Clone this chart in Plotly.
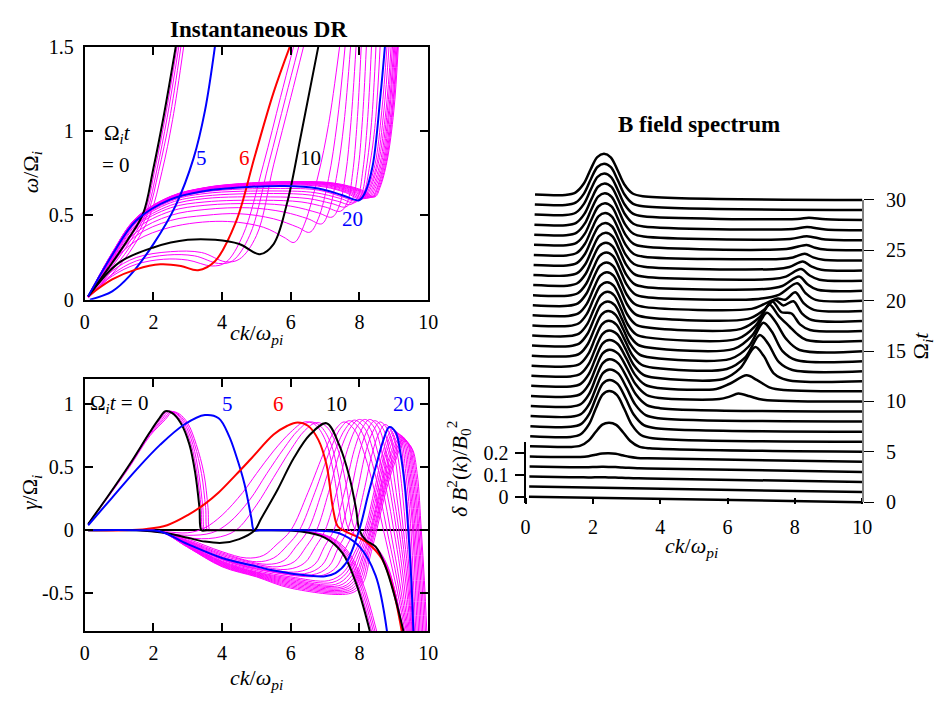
import plotly.graph_objects as go

# ====================== DATA ======================
# ---- Instantaneous DR: real frequency omega/Omega_i vs ck/omega_pi, one curve per Omega_i t
OMEGA_00 = [(0.1,0.02),(0.7,0.19),(1.3,0.37),(1.7,0.51),(2.0,0.78),(2.3,1.09),(2.65,1.5)]
OMEGA_01 = [(0.1,0.02),(0.7,0.18),(1.3,0.36),(1.75,0.52),(2.05,0.78),(2.35,1.09),(2.69,1.5)]
OMEGA_02 = [(0.1,0.02),(0.7,0.17),(1.3,0.34),(1.8,0.52),(2.1,0.77),(2.4,1.08),(2.74,1.5)]
OMEGA_03 = [(0.1,0.01),(0.7,0.15),(1.3,0.31),(1.85,0.52),(2.15,0.76),(2.47,1.07),(2.8,1.5)]
OMEGA_04 = [(0.1,0.01),(0.7,0.13),(1.3,0.28),(1.9,0.5),(2.25,0.76),(2.56,1.07),(2.88,1.5)]
OMEGA_05 = [(0.15,0.0),(0.8,0.05),(1.3,0.14),(2.0,0.33),(2.65,0.56),(3.17,0.84),(3.5,1.12),(3.79,1.5)]
OMEGA_06 = [(0.1,0.02),(0.8,0.12),(1.5,0.18),(2.2,0.21),(2.8,0.2),(3.3,0.175),(3.8,0.23),(4.4,0.46),(4.95,0.85),(5.5,1.23),(5.97,1.5)]
OMEGA_07 = [(0.1,0.02),(0.8,0.14),(1.5,0.21),(2.3,0.24),(3.0,0.235),(3.7,0.2),(4.1,0.22),(4.6,0.38),(5.2,0.8),(5.7,1.2),(6.08,1.5)]
OMEGA_08 = [(0.1,0.02),(0.8,0.15),(1.5,0.23),(2.4,0.265),(3.2,0.26),(3.9,0.215),(4.3,0.23),(4.8,0.38),(5.35,0.8),(5.85,1.2),(6.23,1.5)]
OMEGA_09 = [(0.1,0.02),(0.8,0.17),(1.5,0.25),(2.5,0.285),(3.4,0.28),(4.1,0.225),(4.5,0.24),(5.0,0.38),(5.5,0.8),(6.0,1.2),(6.37,1.5)]
OMEGA_10 = [(0.1,0.02),(1.0,0.22),(2.0,0.31),(3.0,0.355),(3.8,0.355),(4.5,0.33),(5.1,0.27),(5.5,0.33),(5.9,0.58),(6.3,0.98),(6.8,1.5)]
OMEGA_11 = [(0.1,0.02),(0.8,0.22),(1.5,0.35),(2.5,0.43),(4.0,0.465),(5.2,0.43),(5.8,0.37),(6.1,0.34),(6.4,0.45),(6.8,0.74),(7.1,1.04),(7.42,1.5)]
OMEGA_12 = [(0.1,0.02),(0.8,0.23),(1.5,0.38),(2.5,0.47),(3.5,0.5),(4.5,0.51),(5.5,0.48),(6.2,0.43),(6.55,0.4),(6.8,0.48),(7.1,0.72),(7.35,1.05),(7.58,1.5)]
OMEGA_13 = [(0.1,0.02),(0.8,0.235),(1.5,0.4),(2.5,0.5),(3.5,0.535),(4.8,0.545),(5.8,0.52),(6.5,0.48),(6.9,0.45),(7.1,0.52),(7.35,0.75),(7.55,1.05),(7.74,1.5)]
OMEGA_14 = [(0.1,0.02),(0.8,0.24),(1.5,0.42),(2.5,0.525),(3.5,0.56),(5.0,0.57),(6.0,0.555),(6.8,0.515),(7.2,0.49),(7.4,0.55),(7.6,0.75),(7.75,1.05),(7.9,1.5)]
OMEGA_15 = [(0.1,0.02),(0.8,0.245),(1.5,0.435),(2.5,0.545),(3.5,0.58),(5.2,0.59),(6.3,0.58),(7.0,0.55),(7.45,0.525),(7.65,0.58),(7.8,0.75),(7.93,1.05),(8.05,1.5)]
OMEGA_16 = [(0.1,0.02),(0.8,0.25),(1.5,0.445),(2.5,0.56),(3.5,0.6),(5.4,0.61),(6.5,0.6),(7.2,0.57),(7.6,0.55),(7.8,0.6),(7.95,0.76),(8.08,1.05),(8.2,1.5)]
OMEGA_17 = [(0.1,0.02),(0.8,0.255),(1.5,0.455),(2.5,0.575),(3.5,0.615),(5.5,0.63),(6.6,0.62),(7.35,0.585),(7.75,0.565),(7.95,0.61),(8.1,0.77),(8.23,1.05),(8.35,1.5)]
OMEGA_18 = [(0.1,0.02),(0.8,0.26),(1.5,0.46),(2.5,0.585),(3.5,0.63),(5.6,0.645),(6.7,0.635),(7.45,0.6),(7.85,0.575),(8.05,0.62),(8.2,0.78),(8.35,1.05),(8.48,1.5)]
OMEGA_19 = [(0.1,0.02),(0.8,0.262),(1.5,0.465),(2.5,0.59),(3.5,0.64),(5.7,0.66),(6.8,0.65),(7.5,0.61),(7.92,0.585),(8.12,0.63),(8.3,0.8),(8.46,1.05),(8.6,1.5)]
OMEGA_20 = [(0.1,0.02),(0.8,0.265),(1.5,0.47),(2.5,0.595),(3.5,0.645),(4.5,0.665),(5.8,0.675),(6.8,0.66),(7.5,0.62),(7.99,0.59),(8.15,0.63),(8.38,0.79),(8.61,1.21),(8.74,1.5)]
OMEGA_21 = [(0.1,0.02),(0.8,0.268),(1.5,0.472),(2.5,0.597),(3.5,0.648),(4.5,0.668),(6.0,0.682),(7.0,0.668),(7.6,0.635),(8.05,0.595),(8.2,0.64),(8.45,0.8),(8.65,1.12),(8.8,1.5)]
OMEGA_22 = [(0.1,0.02),(0.8,0.27),(1.5,0.475),(2.5,0.6),(3.5,0.651),(4.5,0.672),(6.0,0.686),(7.0,0.673),(7.65,0.637),(8.1,0.598),(8.25,0.645),(8.5,0.8),(8.71,1.12),(8.86,1.5)]
OMEGA_23 = [(0.1,0.02),(0.8,0.272),(1.5,0.477),(2.5,0.603),(3.5,0.654),(4.5,0.675),(6.0,0.689),(7.05,0.677),(7.7,0.64),(8.15,0.6),(8.3,0.65),(8.55,0.81),(8.77,1.12),(8.92,1.5)]
OMEGA_24 = [(0.1,0.02),(0.8,0.273),(1.5,0.479),(2.5,0.605),(3.5,0.656),(4.5,0.678),(6.0,0.691),(7.1,0.68),(7.75,0.642),(8.2,0.601),(8.35,0.652),(8.6,0.81),(8.81,1.12),(8.96,1.5)]
OMEGA_25 = [(0.1,0.02),(0.8,0.274),(1.5,0.48),(2.5,0.607),(3.5,0.658),(4.5,0.68),(6.0,0.693),(7.1,0.683),(7.8,0.645),(8.25,0.603),(8.4,0.655),(8.64,0.81),(8.85,1.12),(9.0,1.5)]
OMEGA_26 = [(0.1,0.02),(0.8,0.275),(1.5,0.482),(2.5,0.608),(3.5,0.66),(4.5,0.682),(6.0,0.695),(7.15,0.685),(7.85,0.647),(8.3,0.605),(8.45,0.658),(8.68,0.81),(8.88,1.12),(9.03,1.5)]
OMEGA_27 = [(0.1,0.02),(0.8,0.276),(1.5,0.483),(2.5,0.61),(3.5,0.662),(4.5,0.684),(6.0,0.697),(7.2,0.687),(7.9,0.649),(8.35,0.607),(8.5,0.66),(8.72,0.82),(8.92,1.12),(9.06,1.5)]
OMEGA_28 = [(0.1,0.02),(0.8,0.277),(1.5,0.484),(2.5,0.611),(3.5,0.663),(4.5,0.686),(6.0,0.699),(7.2,0.689),(7.95,0.65),(8.38,0.608),(8.53,0.662),(8.75,0.82),(8.95,1.12),(9.09,1.5)]
OMEGA_29 = [(0.1,0.02),(0.8,0.278),(1.5,0.485),(2.5,0.612),(3.5,0.664),(4.5,0.687),(6.0,0.7),(7.25,0.69),(8.0,0.651),(8.42,0.61),(8.57,0.665),(8.78,0.82),(8.97,1.12),(9.11,1.5)]
OMEGA_30 = [(0.1,0.02),(0.8,0.279),(1.5,0.486),(2.5,0.613),(3.5,0.665),(4.5,0.688),(6.0,0.701),(7.25,0.692),(8.05,0.652),(8.45,0.61),(8.6,0.667),(8.8,0.82),(9.0,1.12),(9.13,1.5)]

# ---- growth rate gamma/Omega_i vs ck/omega_pi, one curve per Omega_i t
GAMMA_00 = [(0.1,0.05),(0.7,0.28),(1.3,0.52),(1.9,0.78),(2.15,0.88),(2.35,0.945),(2.55,0.93),(2.8,0.85),(3.05,0.68),(3.22,0.45),(3.34,0.18),(3.4,0.0),(3.55,0.0),(5.0,0.0),(6.3,-0.01),(7.0,-0.06),(7.5,-0.18),(7.9,-0.42),(8.3,-0.8)]
GAMMA_01 = [(0.1,0.05),(0.7,0.28),(1.3,0.52),(1.9,0.78),(2.2,0.88),(2.4,0.945),(2.6,0.93),(2.85,0.85),(3.1,0.68),(3.27,0.45),(3.39,0.18),(3.45,0.0),(3.6,0.0),(5.0,0.0),(6.35,-0.01),(7.05,-0.06),(7.55,-0.18),(7.95,-0.42),(8.35,-0.8)]
GAMMA_02 = [(0.1,0.05),(0.7,0.28),(1.3,0.52),(1.9,0.77),(2.25,0.88),(2.45,0.945),(2.65,0.93),(2.9,0.85),(3.15,0.68),(3.32,0.45),(3.44,0.18),(3.5,0.0),(3.65,0.0),(5.0,0.0),(6.4,-0.01),(7.1,-0.06),(7.6,-0.18),(8.0,-0.42),(8.4,-0.8)]
GAMMA_03 = [(0.1,0.05),(0.7,0.28),(1.3,0.51),(1.9,0.76),(2.3,0.88),(2.5,0.94),(2.7,0.925),(2.95,0.85),(3.2,0.68),(3.4,0.45),(3.52,0.18),(3.58,0.0),(3.72,0.0),(5.0,0.0),(6.45,-0.01),(7.15,-0.06),(7.65,-0.18),(8.05,-0.42),(8.45,-0.8)]
GAMMA_04 = [(0.1,0.05),(0.7,0.27),(1.3,0.5),(1.9,0.75),(2.35,0.88),(2.55,0.94),(2.75,0.925),(3.0,0.85),(3.25,0.68),(3.47,0.45),(3.59,0.18),(3.65,0.0),(3.8,0.0),(5.0,0.0),(6.5,-0.01),(7.2,-0.06),(7.7,-0.18),(8.1,-0.42),(8.5,-0.8)]
GAMMA_05 = [(0.1,0.04),(0.8,0.26),(1.5,0.48),(2.2,0.68),(2.9,0.84),(3.5,0.915),(3.9,0.89),(4.2,0.75),(4.4,0.6),(4.65,0.37),(4.85,0.1),(4.93,0.0),(5.1,0.0),(6.5,0.0),(7.2,-0.01),(7.55,-0.04),(8.0,-0.13),(8.47,-0.36),(8.8,-0.8)]
GAMMA_06 = [(0.1,0.0),(1.2,0.0),(1.8,0.01),(2.4,0.04),(3.0,0.12),(3.5,0.21),(3.9,0.3),(4.4,0.44),(4.85,0.57),(5.5,0.76),(5.9,0.83),(6.2,0.856),(6.5,0.83),(6.8,0.72),(7.04,0.52),(7.23,0.17),(7.37,0.03),(7.6,-0.01),(8.0,-0.06),(8.28,-0.11),(8.66,-0.23),(8.95,-0.44),(9.23,-0.8)]
GAMMA_07 = [(0.1,0.0),(1.5,0.0),(2.3,-0.01),(3.0,-0.02),(3.5,0.02),(4.0,0.12),(4.6,0.3),(5.0,0.45),(5.5,0.63),(6.0,0.78),(6.4,0.86),(6.7,0.84),(7.0,0.72),(7.25,0.45),(7.42,0.15),(7.52,0.02),(7.7,-0.02),(8.05,-0.07),(8.35,-0.12),(8.72,-0.24),(9.0,-0.45),(9.25,-0.8)]
GAMMA_08 = [(0.1,0.0),(1.5,0.0),(2.3,-0.02),(3.0,-0.04),(3.7,-0.02),(4.2,0.06),(4.8,0.24),(5.3,0.45),(5.8,0.65),(6.2,0.79),(6.55,0.86),(6.85,0.83),(7.15,0.7),(7.4,0.42),(7.57,0.13),(7.67,0.02),(7.85,-0.03),(8.1,-0.08),(8.4,-0.12),(8.75,-0.25),(9.02,-0.47),(9.26,-0.8)]
GAMMA_09 = [(0.1,0.0),(1.5,0.0),(2.3,-0.02),(3.0,-0.06),(3.8,-0.06),(4.4,0.0),(5.0,0.2),(5.5,0.42),(6.0,0.64),(6.4,0.79),(6.75,0.855),(7.05,0.82),(7.35,0.66),(7.6,0.38),(7.75,0.12),(7.85,0.02),(8.0,-0.03),(8.2,-0.09),(8.5,-0.14),(8.8,-0.27),(9.05,-0.5),(9.27,-0.8)]
GAMMA_10 = [(0.1,0.0),(1.5,0.0),(2.3,-0.02),(3.0,-0.06),(3.5,-0.09),(4.0,-0.1),(4.5,-0.07),(4.95,0.0),(5.13,0.09),(5.61,0.32),(6.08,0.57),(6.56,0.76),(7.04,0.85),(7.42,0.67),(7.71,0.42),(7.9,0.17),(8.0,0.0),(8.19,-0.08),(8.47,-0.13),(8.76,-0.29),(9.04,-0.54),(9.28,-0.8)]
GAMMA_11 = [(0.1,0.0),(1.5,0.0),(2.2,-0.01),(3.0,-0.07),(4.0,-0.17),(4.7,-0.22),(5.2,-0.2),(5.6,-0.11),(6.0,0.0),(6.5,0.3),(7.0,0.64),(7.3,0.8),(7.55,0.86),(7.85,0.8),(8.15,0.6),(8.45,0.3),(8.7,0.0),(8.95,-0.3),(9.15,-0.55),(9.32,-0.8)]
GAMMA_12 = [(0.1,0.0),(1.5,0.0),(2.2,-0.01),(3.0,-0.08),(4.0,-0.18),(5.0,-0.25),(5.5,-0.22),(5.9,-0.12),(6.25,0.0),(6.7,0.3),(7.15,0.64),(7.45,0.81),(7.7,0.87),(8.0,0.81),(8.3,0.6),(8.58,0.3),(8.8,0.0),(9.03,-0.3),(9.2,-0.55),(9.36,-0.8)]
GAMMA_13 = [(0.1,0.0),(1.5,0.0),(2.2,-0.01),(3.0,-0.085),(4.0,-0.19),(5.3,-0.27),(5.8,-0.24),(6.15,-0.13),(6.5,0.0),(6.9,0.3),(7.3,0.64),(7.6,0.81),(7.85,0.875),(8.15,0.81),(8.43,0.6),(8.7,0.3),(8.9,0.0),(9.1,-0.3),(9.25,-0.55),(9.39,-0.8)]
GAMMA_14 = [(0.1,0.0),(1.5,0.0),(2.2,-0.01),(3.0,-0.09),(4.0,-0.2),(5.0,-0.27),(5.6,-0.29),(6.1,-0.25),(6.45,-0.13),(6.75,0.0),(7.1,0.3),(7.45,0.64),(7.75,0.82),(8.0,0.88),(8.28,0.82),(8.55,0.6),(8.8,0.3),(9.0,0.0),(9.18,-0.3),(9.3,-0.55),(9.42,-0.8)]
GAMMA_15 = [(0.1,0.0),(1.5,0.0),(2.2,-0.01),(3.0,-0.095),(4.0,-0.21),(5.0,-0.28),(5.9,-0.31),(6.4,-0.26),(6.72,-0.13),(7.0,0.0),(7.33,0.3),(7.65,0.64),(7.92,0.82),(8.15,0.88),(8.42,0.82),(8.67,0.6),(8.9,0.3),(9.08,0.0),(9.24,-0.3),(9.35,-0.55),(9.45,-0.8)]
GAMMA_16 = [(0.1,0.0),(1.5,0.0),(2.2,-0.01),(3.0,-0.1),(4.0,-0.22),(5.0,-0.29),(6.2,-0.33),(6.7,-0.27),(6.98,-0.13),(7.25,0.0),(7.56,0.3),(7.85,0.64),(8.1,0.82),(8.3,0.88),(8.55,0.82),(8.78,0.6),(8.98,0.3),(9.15,0.0),(9.3,-0.3),(9.4,-0.55),(9.48,-0.8)]
GAMMA_17 = [(0.1,0.0),(1.5,0.0),(2.2,-0.01),(3.0,-0.1),(4.0,-0.225),(5.0,-0.3),(6.4,-0.345),(6.9,-0.28),(7.18,-0.14),(7.45,0.0),(7.74,0.3),(8.02,0.64),(8.26,0.81),(8.45,0.87),(8.68,0.81),(8.9,0.6),(9.07,0.3),(9.22,0.0),(9.35,-0.3),(9.44,-0.55),(9.51,-0.8)]
GAMMA_18 = [(0.1,0.0),(1.5,0.0),(2.2,-0.01),(3.0,-0.105),(4.0,-0.23),(5.0,-0.305),(6.6,-0.355),(7.1,-0.29),(7.38,-0.14),(7.65,0.0),(7.93,0.3),(8.2,0.64),(8.42,0.8),(8.6,0.86),(8.82,0.8),(9.02,0.6),(9.16,0.3),(9.28,0.0),(9.4,-0.3),(9.47,-0.55),(9.53,-0.8)]
GAMMA_19 = [(0.1,0.0),(1.5,0.0),(2.2,-0.01),(3.0,-0.105),(4.0,-0.235),(5.0,-0.31),(6.8,-0.365),(7.3,-0.3),(7.58,-0.15),(7.85,0.0),(8.12,0.3),(8.38,0.62),(8.58,0.78),(8.75,0.84),(8.95,0.78),(9.12,0.58),(9.25,0.3),(9.35,0.0),(9.44,-0.3),(9.5,-0.55),(9.55,-0.8)]
GAMMA_20 = [(0.1,0.0),(1.5,0.0),(2.2,-0.01),(3.0,-0.11),(4.0,-0.22),(4.9,-0.28),(5.5,-0.32),(6.5,-0.36),(7.0,-0.365),(7.3,-0.34),(7.61,-0.26),(7.99,0.0),(8.25,0.28),(8.47,0.5),(8.7,0.72),(8.87,0.82),(9.05,0.78),(9.2,0.6),(9.32,0.35),(9.42,0.0),(9.5,-0.35),(9.57,-0.8)]
GAMMA_21 = [(0.1,0.0),(1.5,0.0),(2.2,-0.01),(3.0,-0.11),(4.0,-0.245),(5.0,-0.32),(6.0,-0.37),(7.1,-0.4),(7.55,-0.33),(7.85,-0.18),(8.15,0.0),(8.45,0.34),(8.7,0.64),(8.95,0.8),(9.15,0.74),(9.3,0.45),(9.45,0.0),(9.53,-0.4),(9.6,-0.8)]
GAMMA_22 = [(0.1,0.0),(1.5,0.0),(2.2,-0.01),(3.0,-0.115),(4.0,-0.25),(5.0,-0.33),(6.0,-0.38),(7.2,-0.415),(7.62,-0.34),(7.92,-0.18),(8.2,0.0),(8.5,0.34),(8.75,0.63),(9.0,0.79),(9.2,0.73),(9.35,0.45),(9.5,0.0),(9.57,-0.4),(9.64,-0.8)]
GAMMA_23 = [(0.1,0.0),(1.5,0.0),(2.2,-0.01),(3.0,-0.12),(4.0,-0.255),(5.0,-0.335),(6.0,-0.39),(7.3,-0.43),(7.7,-0.35),(7.98,-0.19),(8.25,0.0),(8.55,0.34),(8.8,0.63),(9.05,0.78),(9.25,0.72),(9.4,0.45),(9.55,0.0),(9.62,-0.4),(9.68,-0.8)]
GAMMA_24 = [(0.1,0.0),(1.5,0.0),(2.2,-0.01),(3.0,-0.12),(4.0,-0.26),(5.0,-0.34),(6.0,-0.4),(7.4,-0.44),(7.78,-0.36),(8.04,-0.19),(8.3,0.0),(8.6,0.34),(8.85,0.62),(9.1,0.77),(9.3,0.71),(9.44,0.45),(9.58,0.0),(9.66,-0.4),(9.72,-0.8)]
GAMMA_25 = [(0.1,0.0),(1.5,0.0),(2.2,-0.01),(3.0,-0.125),(4.0,-0.265),(5.0,-0.345),(6.0,-0.41),(7.5,-0.45),(7.85,-0.37),(8.09,-0.2),(8.33,0.0),(8.63,0.34),(8.9,0.61),(9.15,0.76),(9.35,0.7),(9.48,0.45),(9.62,0.0),(9.7,-0.4),(9.76,-0.8)]
GAMMA_26 = [(0.1,0.0),(1.5,0.0),(2.2,-0.01),(3.0,-0.125),(4.0,-0.27),(5.0,-0.35),(6.0,-0.42),(7.55,-0.46),(7.9,-0.38),(8.13,-0.2),(8.36,0.0),(8.66,0.34),(8.93,0.6),(9.2,0.75),(9.4,0.69),(9.52,0.45),(9.66,0.0),(9.74,-0.4),(9.8,-0.8)]
GAMMA_27 = [(0.1,0.0),(1.5,0.0),(2.2,-0.01),(3.0,-0.13),(4.0,-0.275),(5.0,-0.355),(6.0,-0.43),(7.6,-0.47),(7.95,-0.39),(8.17,-0.21),(8.4,0.0),(8.7,0.34),(8.97,0.59),(9.22,0.74),(9.43,0.68),(9.56,0.45),(9.7,0.0),(9.78,-0.4),(9.84,-0.8)]
GAMMA_28 = [(0.1,0.0),(1.5,0.0),(2.2,-0.01),(3.0,-0.13),(4.0,-0.28),(5.0,-0.36),(6.0,-0.44),(7.65,-0.48),(8.0,-0.4),(8.21,-0.21),(8.43,0.0),(8.73,0.34),(9.0,0.58),(9.25,0.73),(9.46,0.67),(9.6,0.45),(9.73,0.0),(9.82,-0.4),(9.88,-0.8)]
GAMMA_29 = [(0.1,0.0),(1.5,0.0),(2.2,-0.01),(3.0,-0.135),(4.0,-0.285),(5.0,-0.365),(6.0,-0.45),(7.7,-0.49),(8.05,-0.41),(8.25,-0.22),(8.46,0.0),(8.76,0.34),(9.03,0.57),(9.28,0.72),(9.5,0.66),(9.64,0.45),(9.77,0.0),(9.86,-0.4),(9.92,-0.8)]
GAMMA_30 = [(0.1,0.0),(1.5,0.0),(2.2,-0.01),(3.0,-0.135),(4.0,-0.29),(5.0,-0.37),(6.0,-0.46),(7.75,-0.5),(8.1,-0.42),(8.3,-0.22),(8.5,0.0),(8.8,0.34),(9.06,0.56),(9.3,0.71),(9.53,0.65),(9.68,0.45),(9.8,0.0),(9.89,-0.4),(9.96,-0.8)]

HIGHLIGHT_TIMES = [0, 5, 6, 10, 20]
HIGHLIGHT_COLORS = ["#000000", "#0000ff", "#ff0000", "#000000", "#0000ff"]

# ---- B field spectrum dB^2(k)/B0^2, one trace per Omega_i t = 0..30
SPEC_TIMES = list(range(31))
MAIN_AMP = [0.0, 0.0, 0.002, 0.004, 0.02, 0.115, 0.215, 0.22, 0.222, 0.222, 0.22, 0.218,
            0.216, 0.214, 0.212, 0.21, 0.208, 0.206, 0.205, 0.204, 0.203, 0.202, 0.201,
            0.2, 0.199, 0.198, 0.197, 0.196, 0.195, 0.194, 0.193]
MAIN_K = [2.45, 2.45, 2.45, 2.45, 2.45, 2.45, 2.45, 2.45, 2.45, 2.44, 2.43, 2.42, 2.41,
          2.39, 2.37, 2.35, 2.34, 2.32, 2.31, 2.29, 2.28, 2.26, 2.25, 2.23, 2.22, 2.21,
          2.2, 2.19, 2.17, 2.16, 2.15]
MAIN_RIGHT_WIDTH = [1.0, 1.0, 1.0, 1.0, 1.0, 1.05, 1.12, 1.2, 1.26, 1.3, 1.3, 1.26, 1.2,
                    1.15, 1.1, 1.05, 1.0, 1.0, 1.0, 1.0, 1.0, 1.0, 1.0, 1.0, 1.0, 1.0,
                    1.0, 1.0, 1.0, 1.0, 1.0]
PEAK_OFFSETS = [-1.15, -0.85, -0.6, -0.4, -0.2, 0.0, 0.2, 0.4, 0.6, 0.85, 1.15]
PEAK_SHAPE = [0.0, 0.06, 0.28, 0.62, 0.92, 1.0, 0.92, 0.62, 0.28, 0.06, 0.0]
SECOND_10 = [(5.7,0.0),(6.0,0.012),(6.26,0.027),(6.6,0.015),(7.0,0.0)]
SECOND_11 = [(5.6,0.0),(6.0,0.025),(6.5,0.065),(6.8,0.045),(7.2,0.01),(7.6,0.0)]
SECOND_12 = [(5.8,0.0),(6.3,0.05),(6.75,0.15),(7.0,0.11),(7.3,0.03),(7.7,0.0)]
SECOND_13 = [(5.9,0.0),(6.45,0.055),(6.88,0.16),(7.13,0.12),(7.45,0.035),(7.85,0.0)]
SECOND_14 = [(6.0,0.0),(6.55,0.06),(6.98,0.17),(7.23,0.13),(7.55,0.04),(7.95,0.0)]
SECOND_15 = [(6.1,0.0),(6.65,0.065),(7.08,0.17),(7.33,0.13),(7.65,0.05),(8.05,0.0)]
SECOND_16 = [(6.2,0.0),(6.75,0.065),(7.15,0.16),(7.42,0.11),(7.75,0.06),(7.95,0.03),(8.25,0.0)]
SECOND_17 = [(6.3,0.0),(6.85,0.055),(7.22,0.13),(7.5,0.08),(7.8,0.075),(8.05,0.025),(8.35,0.0)]
SECOND_18 = [(6.5,0.0),(6.95,0.04),(7.3,0.09),(7.55,0.065),(7.85,0.085),(8.1,0.03),(8.4,0.0)]
SECOND_19 = [(6.6,0.0),(7.0,0.025),(7.38,0.05),(7.6,0.045),(7.9,0.08),(8.15,0.03),(8.45,0.0)]
SECOND_20 = [(6.8,0.0),(7.4,0.02),(7.95,0.075),(8.2,0.03),(8.5,0.0)]
SECOND_21 = [(7.0,0.0),(7.5,0.015),(8.0,0.06),(8.25,0.025),(8.55,0.0)]
SECOND_22 = [(7.2,0.0),(7.6,0.012),(8.05,0.048),(8.3,0.02),(8.6,0.0)]
SECOND_23 = [(7.3,0.0),(7.7,0.01),(8.1,0.036),(8.35,0.015),(8.65,0.0)]
SECOND_24 = [(7.4,0.0),(7.8,0.008),(8.15,0.026),(8.4,0.01),(8.7,0.0)]
SECOND_25 = [(7.6,0.0),(8.2,0.02),(8.45,0.008),(8.75,0.0)]
SECOND_26 = [(7.7,0.0),(8.2,0.014),(8.75,0.0)]
SECOND_27 = [(7.8,0.0),(8.2,0.01),(8.75,0.0)]
SECOND_28 = [(7.9,0.0),(8.25,0.006),(8.75,0.0)]

X_TICKS = [0, 2, 4, 6, 8, 10]
DR_Y_TICKS = [0, 0.5, 1, 1.5]
GR_Y_TICKS = [-0.5, 0, 0.5, 1]
SPEC_T_TICKS = [0, 5, 10, 15, 20, 25, 30]
SPEC_B_TICKS = [0, 0.1, 0.2]

# ====================== FIGURE ======================
W, H = 945, 705
FONT = "Liberation Serif, Tinos, 'Times New Roman', 'DejaVu Serif', serif"
MAG = "#ff00ff"
TICK_SIZE = 20
TITLE_SIZE = 22

OMEGA = [OMEGA_00, OMEGA_01, OMEGA_02, OMEGA_03, OMEGA_04, OMEGA_05, OMEGA_06, OMEGA_07,
         OMEGA_08, OMEGA_09, OMEGA_10, OMEGA_11, OMEGA_12, OMEGA_13, OMEGA_14, OMEGA_15,
         OMEGA_16, OMEGA_17, OMEGA_18, OMEGA_19, OMEGA_20, OMEGA_21, OMEGA_22, OMEGA_23,
         OMEGA_24, OMEGA_25, OMEGA_26, OMEGA_27, OMEGA_28, OMEGA_29, OMEGA_30]
GAMMA = [GAMMA_00, GAMMA_01, GAMMA_02, GAMMA_03, GAMMA_04, GAMMA_05, GAMMA_06, GAMMA_07,
         GAMMA_08, GAMMA_09, GAMMA_10, GAMMA_11, GAMMA_12, GAMMA_13, GAMMA_14, GAMMA_15,
         GAMMA_16, GAMMA_17, GAMMA_18, GAMMA_19, GAMMA_20, GAMMA_21, GAMMA_22, GAMMA_23,
         GAMMA_24, GAMMA_25, GAMMA_26, GAMMA_27, GAMMA_28, GAMMA_29, GAMMA_30]
SECOND = {10: SECOND_10, 11: SECOND_11, 12: SECOND_12, 13: SECOND_13, 14: SECOND_14,
          15: SECOND_15, 16: SECOND_16, 17: SECOND_17, 18: SECOND_18, 19: SECOND_19,
          20: SECOND_20, 21: SECOND_21, 22: SECOND_22, 23: SECOND_23, 24: SECOND_24,
          25: SECOND_25, 26: SECOND_26, 27: SECOND_27, 28: SECOND_28}


def fx(px):
    return px / W


def fy(py):
    return 1 - py / H


def curve(pts, color, width, xa, ya):
    return go.Scatter(x=[p[0] for p in pts], y=[p[1] for p in pts], mode="lines",
                      line=dict(color=color, width=width, shape="spline", smoothing=1.0),
                      xaxis=xa, yaxis=ya, hoverinfo="skip", showlegend=False)


fig = go.Figure()

# left panels: magenta family first, highlighted curves on top
for data, xa, ya in ((OMEGA, "x", "y"), (GAMMA, "x2", "y2")):
    for t, pts in enumerate(data):
        if t not in HIGHLIGHT_TIMES:
            fig.add_trace(curve(pts, MAG, 1.0, xa, ya))
    for t, col in zip(HIGHLIGHT_TIMES, HIGHLIGHT_COLORS):
        fig.add_trace(curve(data[t], col, 2.0, xa, ya))

# right panel: pseudo-3D waterfall (each trace offset by Omega_i t)
SPEC_DRIFT = 0.006   # horizontal perspective drift per unit Omega_i t
SPEC_TILT = 0.055    # baseline tilt (t-units per unit k)
SPEC_SCALE = 21.44   # t-units per unit dB^2/B0^2
for t in SPEC_TIMES:
    pts = [(0.1, 0.0)]
    if MAIN_AMP[t] > 0:
        c = MAIN_K[t]
        for off, rel in zip(PEAK_OFFSETS, PEAK_SHAPE):
            o = off * (MAIN_RIGHT_WIDTH[t] if off > 0 else 1.0)
            pts.append((c + o, MAIN_AMP[t] * rel))
    pts += SECOND.get(t, [])
    pts.append((10.0, 0.0))
    pts.sort(key=lambda p: p[0])
    xs = [k + SPEC_DRIFT * t for k, a in pts]
    ys = [t + SPEC_TILT * (10 - k) + SPEC_SCALE * a for k, a in pts]
    fig.add_trace(go.Scatter(x=xs, y=ys, mode="lines",
                             line=dict(color="black", width=2.5, shape="spline", smoothing=0.9),
                             xaxis="x3", yaxis="y3", hoverinfo="skip", showlegend=False))

# empty traces so that the auxiliary axes get a subplot
fig.add_trace(go.Scatter(x=[], y=[], xaxis="x3", yaxis="y4", showlegend=False))
fig.add_trace(go.Scatter(x=[], y=[], xaxis="x3", yaxis="y5", showlegend=False))

tickfont = dict(family=FONT, size=TICK_SIZE, color="black")
frame = dict(showline=True, linecolor="black", linewidth=2, mirror="ticks",
             ticks="inside", ticklen=8, tickwidth=1.5, tickcolor="black",
             showgrid=False, zeroline=False, tickfont=tickfont)

# right panel geometry
Y3_LO, Y3_HI = -0.5, 36.0
Y3_BOT, Y3_TOP = 512.2, 132.6


def y3_at(py):
    return Y3_LO + (Y3_BOT - py) / (Y3_BOT - Y3_TOP) * (Y3_HI - Y3_LO)


y4_range = [(y3_at(508) - SPEC_TILT * 10) / SPEC_SCALE, (y3_at(445) - SPEC_TILT * 10) / SPEC_SCALE]

fig.update_layout(
    width=W, height=H, margin=dict(l=0, r=0, t=0, b=0), autosize=False,
    paper_bgcolor="white", plot_bgcolor="rgba(0,0,0,0)", showlegend=False,
    font=dict(family=FONT, size=TICK_SIZE, color="black"),
    xaxis=dict(domain=[fx(81), fx(430)], range=[0, 10], anchor="y", tickvals=X_TICKS,
               ticklabelstandoff=3, **frame),
    yaxis=dict(domain=[fy(298), fy(37)], range=[0, 1.5], anchor="x", tickvals=DR_Y_TICKS,
               ticktext=["0", "0.5", "1", "1.5"], ticklabelstandoff=5, **frame),
    xaxis2=dict(domain=[fx(81), fx(430)], range=[0, 10], anchor="y2", tickvals=X_TICKS,
                ticklabelstandoff=3, **frame),
    yaxis2=dict(domain=[fy(640), fy(380)], range=[-0.8, 1.2], anchor="x2", tickvals=GR_Y_TICKS,
                ticktext=["-0.5", "0", "0.5", "1"], ticklabelstandoff=5,
                **{**frame, "zeroline": True}, zerolinecolor="black", zerolinewidth=2),
    xaxis3=dict(domain=[fx(529), fx(871)], range=[0, 10], anchor="free", position=fy(502),
                showline=False, showgrid=False, zeroline=False, ticks="outside", ticklen=6,
                tickwidth=1.5, tickcolor="black", tickvals=X_TICKS, tickfont=tickfont,
                ticklabelstandoff=6),
    yaxis3=dict(domain=[fy(Y3_BOT), fy(Y3_TOP)], range=[Y3_LO, Y3_HI], anchor="x3",
                visible=False),
    yaxis4=dict(domain=[fy(508), fy(445)], range=y4_range, anchor="x3", side="left",
                showline=True, linecolor="black", linewidth=2, ticks="outside", ticklen=9,
                tickwidth=1.5, tickcolor="black", showgrid=False, zeroline=False,
                tickvals=SPEC_B_TICKS, ticktext=["0", "0.1", "0.2"], tickfont=tickfont,
                ticklabelstandoff=2),
    yaxis5=dict(domain=[fy(507), fy(195)], range=[0, 30], anchor="x3", side="right",
                showline=True, linecolor="#808080", linewidth=1.5, ticks="outside",
                ticklen=10, tickwidth=1.2, tickcolor="black", showgrid=False,
                zeroline=False, tickvals=SPEC_T_TICKS, tickfont=tickfont,
                ticklabelstandoff=8),
)


def ann(text, x, y, xref="paper", yref="paper", size=TITLE_SIZE, color="black", angle=0,
        xanchor="center", yanchor="middle"):
    fig.add_annotation(text=text, x=x, y=y, xref=xref, yref=yref, showarrow=False,
                       textangle=angle, xanchor=xanchor, yanchor=yanchor,
                       font=dict(family=FONT, size=size, color=color))


CKW = "<i>ck</i>/<i>ω</i><sub><i>pi</i></sub>"
ann("<b>Instantaneous DR</b>", fx(258), fy(19), size=23)
ann("<b>B field spectrum</b>", fx(705), fy(117), size=23)
ann(CKW, fx(256), fy(333))
ann(CKW, fx(256), fy(690))
ann(CKW, fx(698), fy(553))
ann("<i>ω</i>/Ω<sub><i>i</i></sub>", fx(27), fy(167), angle=-90)
ann("<i>γ</i>/Ω<sub><i>i</i></sub>", fx(27), fy(497), angle=-90)
ann("<i>δ B</i><sup>2</sup>(<i>k</i>)/<i>B</i><sub>0</sub><sup>2</sup>", fx(461), fy(473), angle=-90)
ann("Ω<sub><i>i</i></sub><i>t</i>", fx(932), fy(345), angle=-90)

# curve labels, top panel
ann("Ω<sub><i>i</i></sub><i>t</i>", 0.95, 0.985, "x", "y", size=21)
ann("= 0", 0.9, 0.8, "x", "y", size=21)
ann("5", 3.39, 0.84, "x", "y", size=21, color="#0000ff")
ann("6", 4.65, 0.84, "x", "y", size=21, color="#ff0000")
ann("10", 6.56, 0.84, "x", "y", size=21)
ann("20", 7.8, 0.48, "x", "y", size=21, color="#0000ff")
# curve labels, bottom panel
ann("Ω<sub><i>i</i></sub><i>t</i> = 0", 1.0, 1.0, "x2", "y2", size=21)
ann("5", 4.15, 1.0, "x2", "y2", size=21, color="#0000ff")
ann("6", 5.65, 1.0, "x2", "y2", size=21, color="#ff0000")
ann("10", 7.33, 1.0, "x2", "y2", size=21)
ann("20", 9.28, 1.0, "x2", "y2", size=21, color="#0000ff")

fig.write_html("out.html")
